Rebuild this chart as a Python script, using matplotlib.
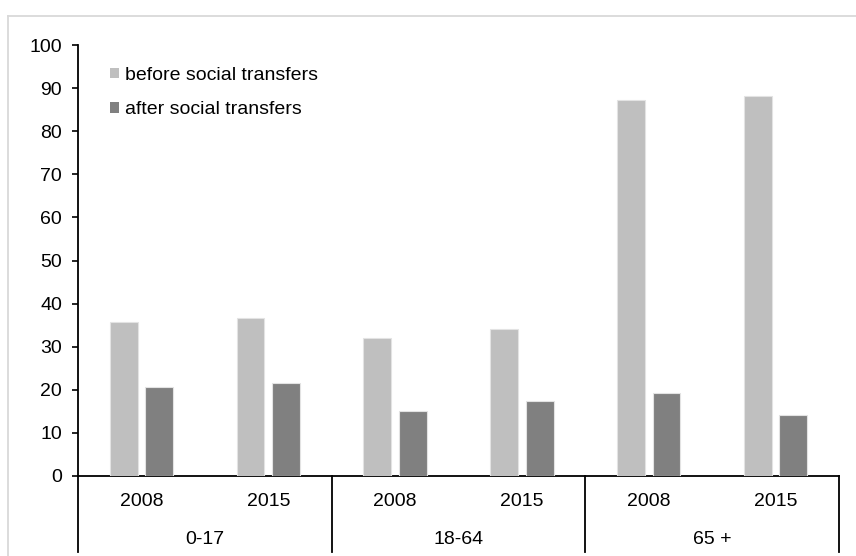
import matplotlib
matplotlib.use("Agg")
import matplotlib.pyplot as plt
from matplotlib.lines import Line2D
from matplotlib.patches import Patch
import numpy as np

years = ["2008", "2015", "2008", "2015", "2008", "2015"]
groups = ["0-17", "18-64", "65 +"]
before = [35.8, 36.7, 32.1, 34.0, 87.2, 88.1]
after = [20.6, 21.5, 15.0, 17.4, 19.3, 14.1]
series_names = ["before social transfers", "after social transfers"]

plt.rcParams['font.family'] = ['Liberation Sans', 'DejaVu Sans']
FS = 14

W, H = 856, 556
fig = plt.figure(figsize=(W / 100, H / 100), dpi=100)
ax = fig.add_axes([78 / W, 1 - 476 / H, (839 - 78) / W, (476 - 45) / H])

x = np.arange(len(years))
bw = 0.22
off = 0.14
ax.bar(x - off, before, width=bw, color="#BFBFBF", edgecolor="#E3E3E3", linewidth=0.8, zorder=3)
ax.bar(x + off, after, width=bw, color="#808080", edgecolor="#E3E3E3", linewidth=0.8, zorder=3)

ax.set_xlim(-0.5, len(years) - 0.5)
ax.set_ylim(0, 100)
ax.set_yticks(np.arange(0, 101, 10))
ax.tick_params(axis='y', direction='out', length=4, width=1.2, pad=7.5, labelsize=FS, colors='black')
ax.set_xticks([])
for s in ["top", "right"]:
    ax.spines[s].set_visible(False)
ax.spines["left"].set_linewidth(1.3)
ax.spines["bottom"].set_linewidth(1.3)
ax.spines["left"].set_color("black")
ax.spines["bottom"].set_color("black")

trans = ax.get_xaxis_transform()
ah = 476 - 45
y_year = (476 - 501) / ah
y_group = (476 - 540) / ah
y_sep = (476 - 552) / ah
for xi, lab in zip(x, years):
    ax.text(xi, y_year, lab, transform=trans, ha='center', va='center', fontsize=FS, color='black')
for gi, g in enumerate(groups):
    ax.text(2 * gi + 0.5, y_group, g, transform=trans, ha='center', va='center', fontsize=FS, color='black')
for sx in [-0.5, 1.5, 3.5, 5.5]:
    ax.add_line(Line2D([sx, sx], [0, y_sep], transform=trans, color='black', linewidth=1.3, clip_on=False))

handles = [Patch(facecolor="#BFBFBF", edgecolor="none"), Patch(facecolor="#808080", edgecolor="none")]
fig.legend(handles, series_names, loc='upper left', bbox_to_anchor=(110 / W, 1 - 67 / H),
           bbox_transform=fig.transFigure, frameon=False, fontsize=FS, borderpad=0, borderaxespad=0,
           handlelength=0.45, handleheight=0.45, handletextpad=0.3, labelspacing=0.9)

# outer chart frame (light gray), cropped at right and bottom
fig.add_artist(Line2D([8 / W, 8 / W], [0, 1 - 15.5 / H], transform=fig.transFigure, color="#D9D9D9", linewidth=1.3))
fig.add_artist(Line2D([8 / W, 1], [1 - 15.5 / H, 1 - 15.5 / H], transform=fig.transFigure, color="#D9D9D9", linewidth=1.3))

fig.savefig("out.png", dpi=100)
